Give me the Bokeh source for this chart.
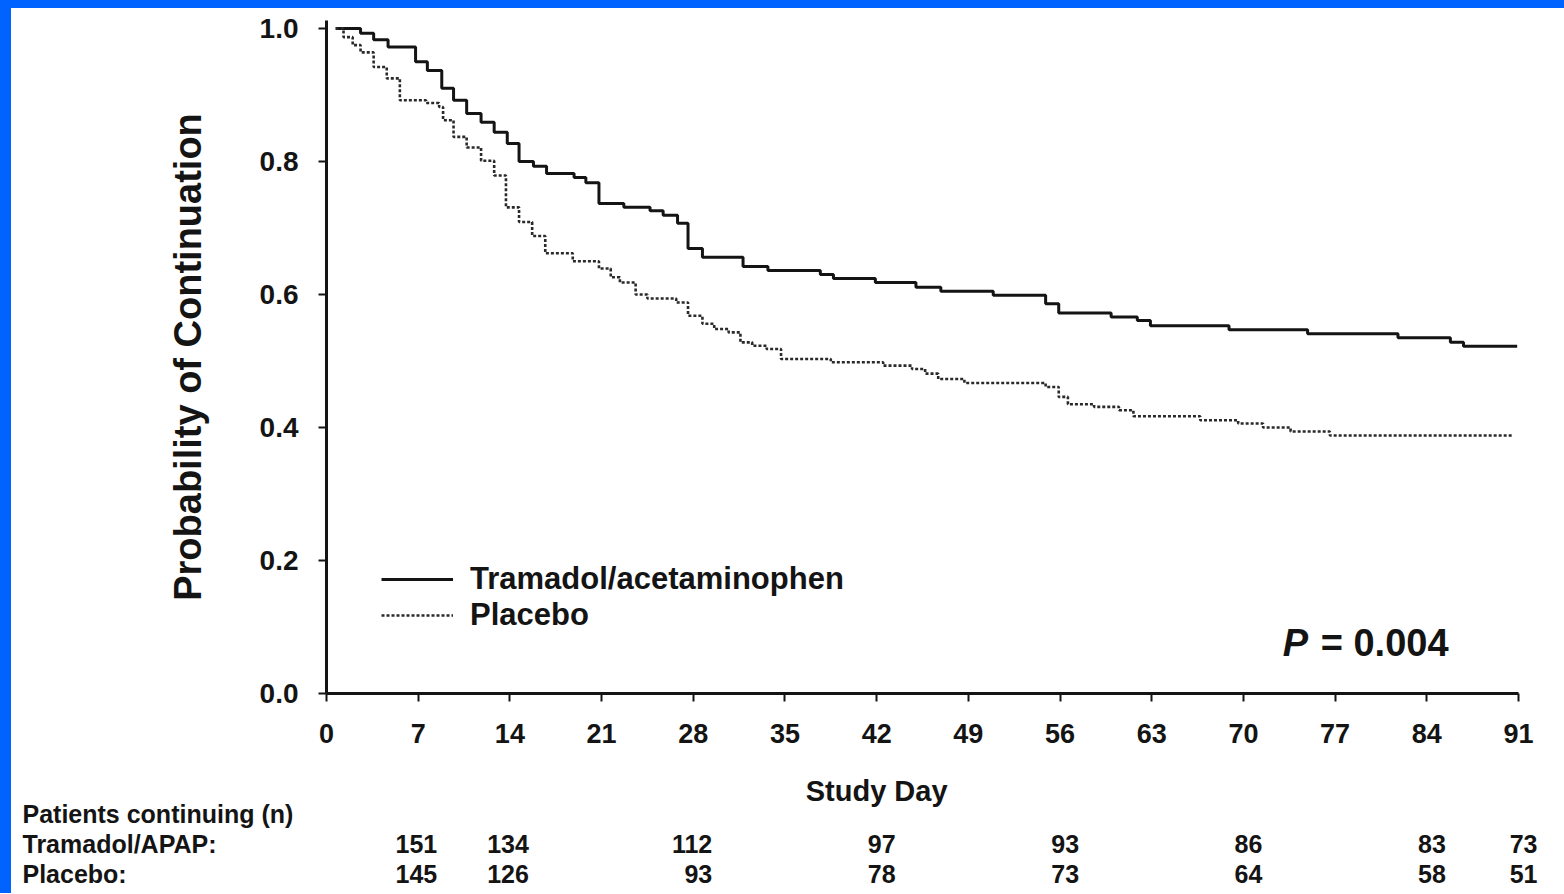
from bokeh.plotting import figure
from bokeh.models import (Range1d, FixedTicker, PrintfTickFormatter, Legend, LegendItem,
                          Label, Div)
from bokeh.layouts import column, row
from bokeh.core.properties import value
from bokeh.embed import file_html
from bokeh.resources import INLINE

# ---- data ----
tram_days = [0.7, 2.6, 3.6, 4.7, 6.8, 7.7, 8.8, 9.7, 10.7, 11.8, 12.8, 13.8, 14.7, 15.8,
             16.8, 18.9, 19.8, 20.8, 22.7, 24.7, 25.7, 26.8, 27.6, 28.7, 31.8, 33.7, 37.7,
             38.7, 41.9, 45.0, 46.9, 50.9, 54.9, 55.9, 59.9, 61.9, 62.9, 68.9, 74.9, 81.8,
             85.8, 86.8, 90.9]
tram_surv = [1.000, 0.993, 0.983, 0.972, 0.950, 0.937, 0.910, 0.892, 0.872, 0.859, 0.844,
             0.827, 0.800, 0.793, 0.782, 0.776, 0.768, 0.737, 0.731, 0.726, 0.719, 0.707,
             0.669, 0.656, 0.642, 0.636, 0.630, 0.624, 0.618, 0.611, 0.605, 0.599, 0.586,
             0.572, 0.566, 0.561, 0.553, 0.547, 0.541, 0.535, 0.528, 0.522, 0.522]

plac_days = [0.7, 1.3, 2.0, 2.6, 3.6, 4.6, 5.6, 7.6, 8.6, 8.9, 9.7, 10.7, 11.8, 12.8, 13.7,
             14.7, 15.7, 16.7, 18.8, 20.8, 21.7, 22.4, 23.6, 24.5, 26.7, 27.6, 28.7, 29.6,
             30.7, 31.6, 32.5, 33.6, 34.7, 38.5, 42.5, 44.7, 45.7, 46.7, 48.7, 54.9, 55.9,
             56.6, 58.6, 60.5, 61.6, 66.7, 69.6, 71.5, 73.6, 76.6, 90.5]
plac_surv = [1.000, 0.987, 0.975, 0.964, 0.942, 0.925, 0.892, 0.888, 0.882, 0.862, 0.837,
             0.821, 0.801, 0.779, 0.731, 0.709, 0.688, 0.662, 0.650, 0.639, 0.626, 0.618,
             0.600, 0.594, 0.588, 0.568, 0.556, 0.548, 0.543, 0.528, 0.523, 0.518, 0.503,
             0.498, 0.493, 0.488, 0.481, 0.473, 0.467, 0.461, 0.446, 0.435, 0.431, 0.426,
             0.417, 0.411, 0.406, 0.400, 0.394, 0.388, 0.388]

x_ticks = [0, 7, 14, 21, 28, 35, 42, 49, 56, 63, 70, 77, 84, 91]
y_ticks = [0.0, 0.2, 0.4, 0.6, 0.8, 1.0]

risk_days = [7, 14, 28, 42, 56, 70, 84, 91]
risk_tram = ["151", "134", "112", "97", "93", "86", "83", "73"]
risk_plac = ["145", "126", "93", "78", "73", "64", "58", "51"]
row_titles = ["Patients continuing (n)", "Tramadol/APAP:", "Placebo:"]

series_names = ["Tramadol/acetaminophen", "Placebo"]
p_value_text = "= 0.004"
x_title = "Study Day"
y_title = "Probability of Continuation"

FONT = "Liberation Sans"
INK = "#141414"
BLUE = "#0062ff"

# ---- layout constants (pixels) ----
FIG_W = 1548
BL, BR = 315, 41            # frame borders of the main plot
FRAME_W = FIG_W - BL - BR   # 1192 px for 91 days
PX_PER_DAY = FRAME_W / 91
TABLE_H = 133

p = figure(width=FIG_W, height=752, output_backend="svg", toolbar_location=None,
           x_range=Range1d(0, 91), y_range=Range1d(0, 1.012),
           min_border_left=BL, min_border_right=BR, min_border_top=12, min_border_bottom=67)
p.outline_line_color = None
p.xgrid.grid_line_color = None
p.ygrid.grid_line_color = None

r_tram = p.step(tram_days, tram_surv, mode="after", line_color=INK, line_width=3)
r_plac = p.step(plac_days, plac_surv, mode="after", line_color="#2a2a2a", line_width=2.6,
                line_dash="3 2")

for ax in (p.xaxis[0], p.yaxis[0]):
    ax.axis_line_color = INK
    ax.axis_line_width = 3
    ax.major_tick_line_color = INK
    ax.major_tick_line_width = 2
    ax.major_tick_in = 0
    ax.major_tick_out = 8
    ax.minor_tick_line_color = None
    ax.major_label_text_font = FONT
    ax.major_label_text_font_style = "bold"
    ax.major_label_text_color = INK

p.xaxis.ticker = FixedTicker(ticks=x_ticks)
p.xaxis.major_label_text_font_size = "27px"
p.xaxis.major_label_standoff = 22

p.yaxis.ticker = FixedTicker(ticks=y_ticks)
p.yaxis.formatter = PrintfTickFormatter(format="%.1f")
p.yaxis.major_label_text_font_size = "28px"
p.yaxis.major_label_standoff = 20
p.yaxis.axis_label = y_title
p.yaxis.axis_label_text_font = FONT
p.yaxis.axis_label_text_font_style = "bold"
p.yaxis.axis_label_text_font_size = "38px"
p.yaxis.axis_label_text_color = INK
p.yaxis.axis_label_standoff = 48

legend = Legend(items=[LegendItem(label=series_names[0], renderers=[r_tram]),
                       LegendItem(label=series_names[1], renderers=[r_plac])],
                location=(55, 60), orientation="vertical",
                border_line_color=None, background_fill_alpha=0,
                padding=0, margin=0, spacing=0,
                glyph_width=72, glyph_height=30, label_height=30, label_standoff=17,
                label_text_font=FONT, label_text_font_style="bold",
                label_text_font_size="31px", label_text_color=INK)
p.add_layout(legend)

p.add_layout(Label(x=73.0, y=0.0755, text="P", text_font=FONT, text_font_style="bold italic",
                   text_font_size="38px", text_color=INK, text_baseline="middle",
                   text_align="left"))
p.add_layout(Label(x=75.9, y=0.0755, text=p_value_text, text_font=FONT,
                   text_font_style="bold", text_font_size="38px", text_color=INK,
                   text_baseline="middle", text_align="left"))

# ---- numbers-at-risk panel (same day scale as the main plot) ----
t = figure(width=FIG_W, height=TABLE_H, output_backend="svg", toolbar_location=None,
           x_range=Range1d(-BL / PX_PER_DAY, (FIG_W - BL) / PX_PER_DAY),
           y_range=Range1d(TABLE_H, 0), x_axis_location=None, y_axis_location=None,
           min_border=0, min_border_left=0, min_border_right=0,
           min_border_top=0, min_border_bottom=0)
t.outline_line_color = None
t.xgrid.grid_line_color = None
t.ygrid.grid_line_color = None

t.text(x=[42], y=[30], text=[x_title], text_font=value(FONT), text_font_style="bold",
       text_font_size="29px", text_color=INK, text_align="center", text_baseline="middle")

left_day = (22 - 11 - BL) / PX_PER_DAY
row_y = [53, 83, 113]
t.text(x=[left_day] * 3, y=row_y, text=row_titles, text_font=value(FONT),
       text_font_style="bold", text_font_size="25px", text_color=INK,
       text_align="left", text_baseline="middle")
t.text(x=risk_days, y=[row_y[1]] * len(risk_days), text=risk_tram, x_offset=19,
       text_font=value(FONT), text_font_style="bold", text_font_size="25px",
       text_color=INK, text_align="right", text_baseline="middle")
t.text(x=risk_days, y=[row_y[2]] * len(risk_days), text=risk_plac, x_offset=19,
       text_font=value(FONT), text_font_style="bold", text_font_size="25px",
       text_color=INK, text_align="right", text_baseline="middle")

# ---- blue frame of the original slide ----
top_bar = Div(text="", width=1564, height=8, margin=0,
              styles={"background-color": BLUE})
left_bar1 = Div(text="", width=11, height=752, margin=0, styles={"background-color": BLUE})
left_bar2 = Div(text="", width=11, height=TABLE_H, margin=0,
                styles={"background-color": BLUE})

root_plot = column(top_bar, row(left_bar1, p))
root_table = row(left_bar2, t)

open("out.html", "w").write(file_html([root_plot, root_table], INLINE))
